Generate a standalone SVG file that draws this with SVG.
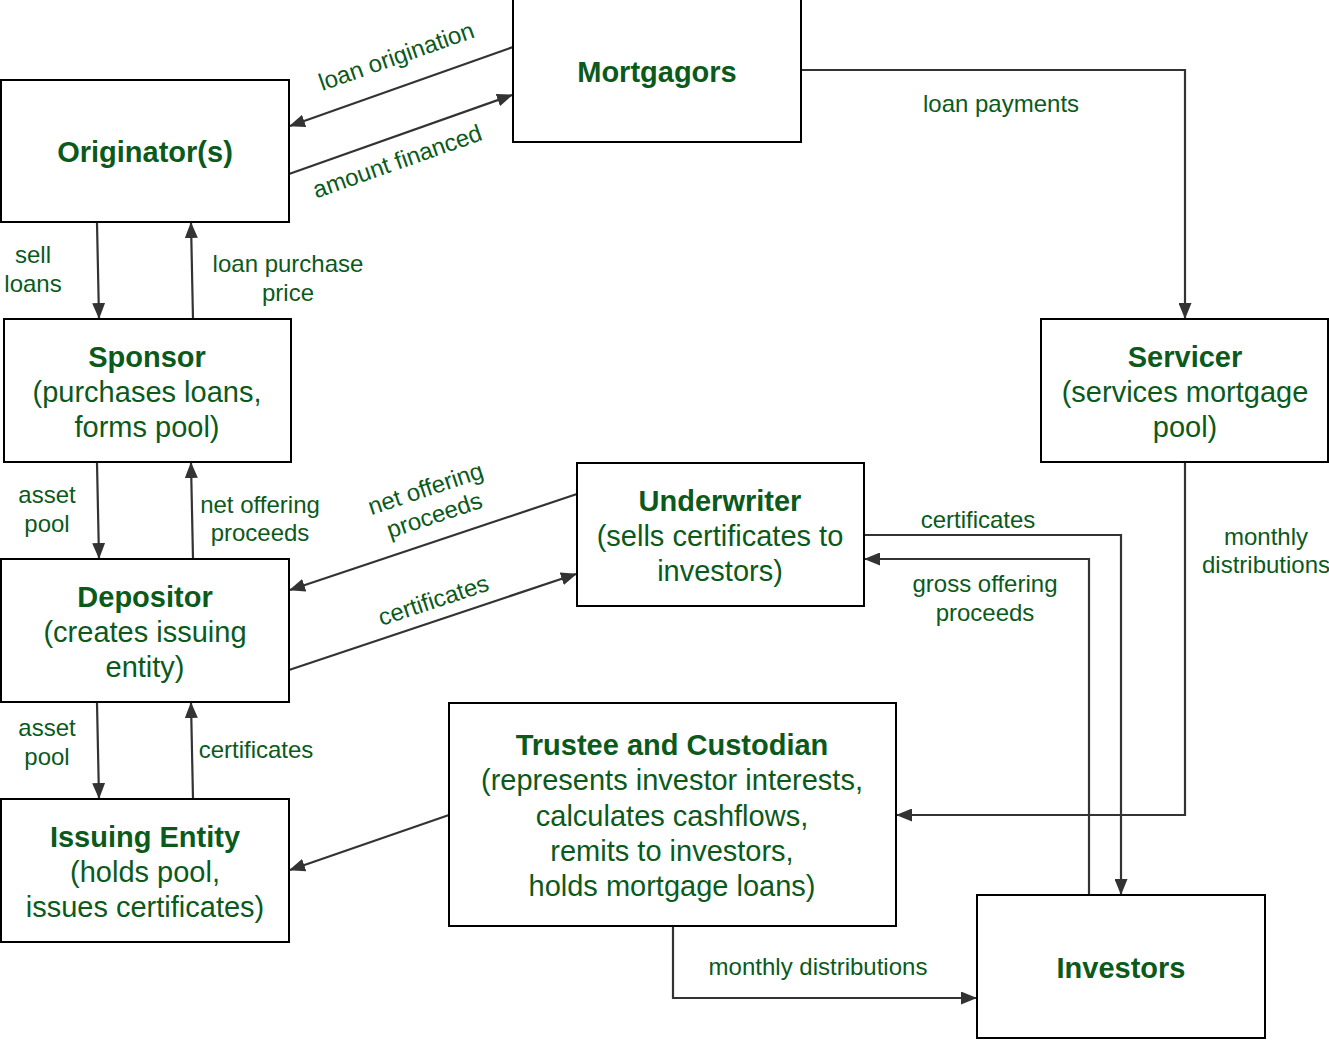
<svg xmlns="http://www.w3.org/2000/svg" width="1329" height="1040" viewBox="0 0 1329 1040">
<defs>
<marker id="ah" markerUnits="userSpaceOnUse" markerWidth="16" markerHeight="13" refX="15" refY="6.5" orient="auto">
<path d="M0,0 L16,6.5 L0,13 z" fill="#333"/>
</marker>
<style>
.box{fill:#fff;stroke:#000;stroke-width:2}
.t{font-family:"Liberation Sans",Arial,sans-serif;font-size:29px;fill:#0b5a1c;text-anchor:middle}
.b{font-weight:bold}
.l{font-family:"Liberation Sans",Arial,sans-serif;font-size:24px;fill:#0b5a1c;text-anchor:middle}
.c{fill:none;stroke:#333;stroke-width:2.2;marker-end:url(#ah)}
.cn{fill:none;stroke:#333;stroke-width:2.2}
</style>
</defs>
<rect width="1329" height="1040" fill="#fff"/>
<g id="connectors">
<line class="c" x1="513" y1="47" x2="290" y2="126"/>
<line class="c" x1="289" y1="174" x2="512" y2="95"/>
<polyline class="c" points="801,70 1185,70 1185,318"/>
<line class="c" x1="97" y1="223" x2="99" y2="318"/>
<line class="c" x1="193" y1="319" x2="191" y2="223"/>
<line class="c" x1="97" y1="463" x2="99" y2="558"/>
<line class="c" x1="193" y1="559" x2="191" y2="463"/>
<line class="c" x1="577" y1="494" x2="290" y2="590"/>
<line class="c" x1="289" y1="670" x2="576" y2="574"/>
<line class="c" x1="97" y1="703" x2="99" y2="798"/>
<line class="c" x1="193" y1="799" x2="191" y2="703"/>
<line class="c" x1="449" y1="815" x2="290" y2="870"/>
<polyline class="c" points="865,535 1121,535 1121,894"/>
<polyline class="c" points="1089,895 1089,559 865,559"/>
<polyline class="c" points="1185,463 1185,815 897,815"/>
<polyline class="c" points="673,927 673,998 976,998"/>
</g>
<g id="mortgagors">
<rect class="box" x="513" y="-2" width="288" height="144"/>
<text class="t b" x="657" y="82">Mortgagors</text>
</g>
<g id="originators">
<rect class="box" x="1" y="80" width="288" height="142"/>
<text class="t b" x="145" y="162">Originator(s)</text>
</g>
<g id="sponsor">
<rect class="box" x="4" y="319" width="287" height="143"/>
<text class="t b" x="147" y="367">Sponsor</text>
<text class="t" x="147" y="402">(purchases loans,</text>
<text class="t" x="147" y="437">forms pool)</text>
</g>
<g id="servicer">
<rect class="box" x="1041" y="319" width="287" height="143"/>
<text class="t b" x="1185" y="367">Servicer</text>
<text class="t" x="1185" y="402">(services mortgage</text>
<text class="t" x="1185" y="437">pool)</text>
</g>
<g id="underwriter">
<rect class="box" x="577" y="463" width="287" height="143"/>
<text class="t b" x="720" y="511">Underwriter</text>
<text class="t" x="720" y="546">(sells certificates to</text>
<text class="t" x="720" y="581">investors)</text>
</g>
<g id="depositor">
<rect class="box" x="1" y="559" width="288" height="143"/>
<text class="t b" x="145" y="607">Depositor</text>
<text class="t" x="145" y="642">(creates issuing</text>
<text class="t" x="145" y="677">entity)</text>
</g>
<g id="trustee">
<rect class="box" x="449" y="703" width="447" height="223"/>
<text class="t b" x="672" y="755">Trustee and Custodian</text>
<text class="t" x="672" y="790">(represents investor interests,</text>
<text class="t" x="672" y="826">calculates cashflows,</text>
<text class="t" x="672" y="861">remits to investors,</text>
<text class="t" x="672" y="896">holds mortgage loans)</text>
</g>
<g id="issuing">
<rect class="box" x="1" y="799" width="288" height="143"/>
<text class="t b" x="145" y="847">Issuing Entity</text>
<text class="t" x="145" y="882">(holds pool,</text>
<text class="t" x="145" y="917">issues certificates)</text>
</g>
<g id="investors">
<rect class="box" x="977" y="895" width="288" height="143"/>
<text class="t b" x="1121" y="978">Investors</text>
</g>
<g id="labels">
<text class="l" transform="translate(399,64) rotate(-19.4)">loan origination</text>
<text class="l" transform="translate(400,169) rotate(-19.4)">amount financed</text>
<text class="l" x="1001" y="112">loan payments</text>
<text class="l" x="33" y="263">sell</text>
<text class="l" x="33" y="292">loans</text>
<text class="l" x="288" y="272">loan purchase</text>
<text class="l" x="288" y="301">price</text>
<text class="l" x="47" y="503">asset</text>
<text class="l" x="47" y="532">pool</text>
<text class="l" x="260" y="513">net offering</text>
<text class="l" x="260" y="541">proceeds</text>
<g transform="translate(430,502) rotate(-18.4)">
<text class="l" x="0" y="-6">net offering</text>
<text class="l" x="0" y="22">proceeds</text>
</g>
<text class="l" transform="translate(436,608) rotate(-18.4)">certificates</text>
<text class="l" x="47" y="736">asset</text>
<text class="l" x="47" y="765">pool</text>
<text class="l" x="256" y="758">certificates</text>
<text class="l" x="978" y="528">certificates</text>
<text class="l" x="985" y="592">gross offering</text>
<text class="l" x="985" y="621">proceeds</text>
<text class="l" x="1266" y="545">monthly</text>
<text class="l" x="1266" y="573">distributions</text>
<text class="l" x="818" y="975">monthly distributions</text>
</g>
</svg>
